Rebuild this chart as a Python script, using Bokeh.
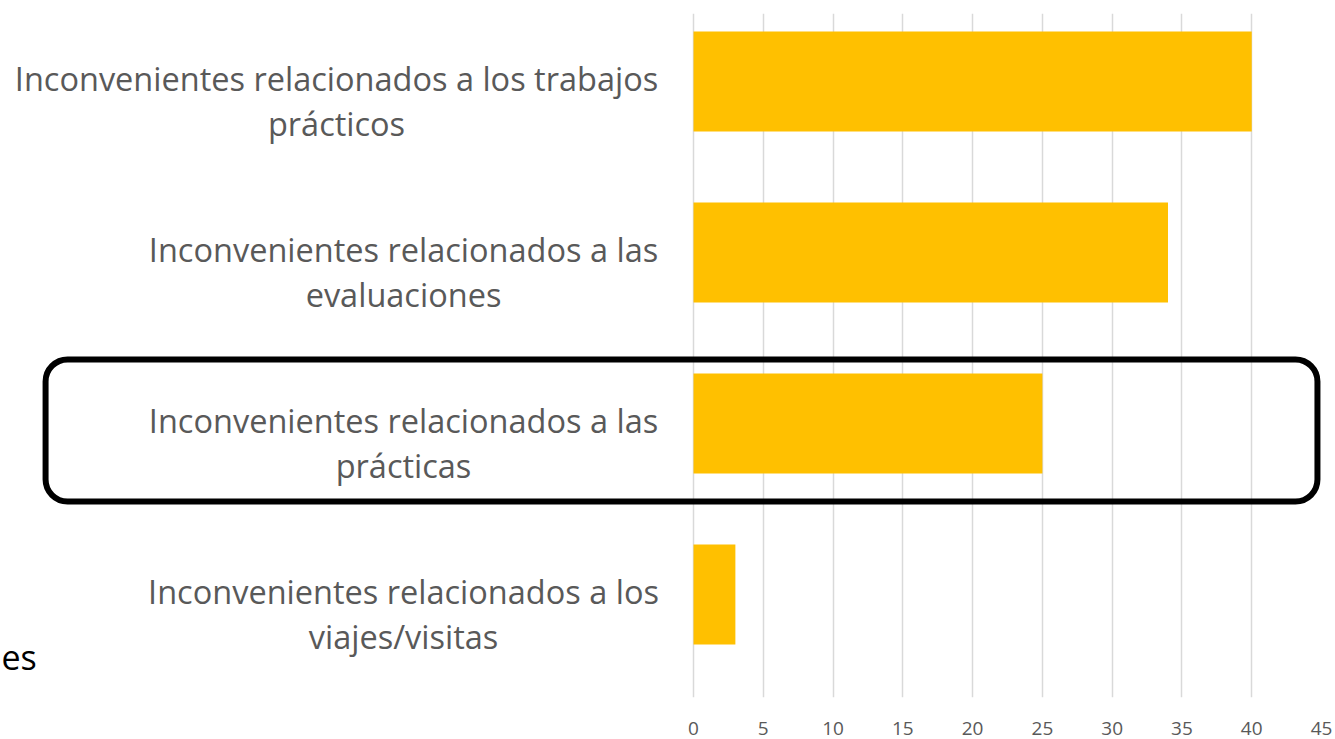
from bokeh.plotting import figure
from bokeh.models import Range1d, FixedTicker, BoxAnnotation, ColumnDataSource
from bokeh.core.properties import value
from bokeh.embed import file_html
from bokeh.resources import INLINE

# ---- data ----
categories = [
    "Inconvenientes relacionados a los trabajos\nprácticos",
    "Inconvenientes relacionados a las\nevaluaciones",
    "Inconvenientes relacionados a las\nprácticas",
    "Inconvenientes relacionados a los\nviajes/visitas",
]
values = [40, 34, 25, 3]
x_ticks = [0, 5, 10, 15, 20, 25, 30, 35, 40, 45]
highlight_index = 2
stray_text = "es"

# ---- layout / style ----
FONT = "Open Sans"
GRAY = "#595959"
n = len(categories)
ypos = [n - 1 - i + 0.5 for i in range(n)]
label_center_px = [-357, -290, -290, -290]  # screen offset of label block centres from x=0
X0 = -49.66

p = figure(width=1333, height=739, output_backend="svg", toolbar_location=None,
           x_range=Range1d(X0, 45), y_range=Range1d(-0.102, n - 0.102),
           min_border_left=0, min_border_right=12, min_border_top=13, min_border_bottom=42)
p.outline_line_color = None
p.yaxis.visible = False
p.ygrid.grid_line_color = None
p.xgrid.grid_line_color = "#d9d9d9"
p.xgrid.grid_line_width = 1.5
p.xaxis.ticker = FixedTicker(ticks=x_ticks)
p.xaxis.axis_line_color = None
p.xaxis.major_tick_line_color = None
p.xaxis.minor_tick_line_color = None
p.xaxis.major_tick_out = 0
p.xaxis.major_label_standoff = 24
p.xaxis.major_label_text_font = FONT
p.xaxis.major_label_text_font_size = "19px"
p.xaxis.major_label_text_color = GRAY

src = ColumnDataSource(dict(y=ypos, v=values, label=categories, xo=label_center_px,
                            x0=[0] * n))
p.hbar(y="y", left=0, right="v", height=0.585, source=src,
       fill_color="#FFC000", line_color=None)

p.text(x="x0", y="y", text="label", source=src, x_offset="xo", y_offset=19,
       text_align="center", text_baseline="middle", text_font=value(FONT),
       text_font_size="32.5px", text_color=GRAY, text_line_height=1.0)

p.text(x=[X0], y=[ypos[-1]], text=[stray_text], x_offset=1, y_offset=62,
       text_align="left", text_baseline="alphabetic", text_font=value(FONT),
       text_font_size="34px", text_color="#000000")

hy = ypos[highlight_index]
box = BoxAnnotation(left=-46.43, right=44.71, bottom=hy - 0.456, top=hy + 0.375,
                    fill_color=None, fill_alpha=0, line_color="black", line_alpha=1,
                    line_width=6, border_radius=22)
p.add_layout(box)

open("out.html", "w").write(file_html(p, INLINE))
